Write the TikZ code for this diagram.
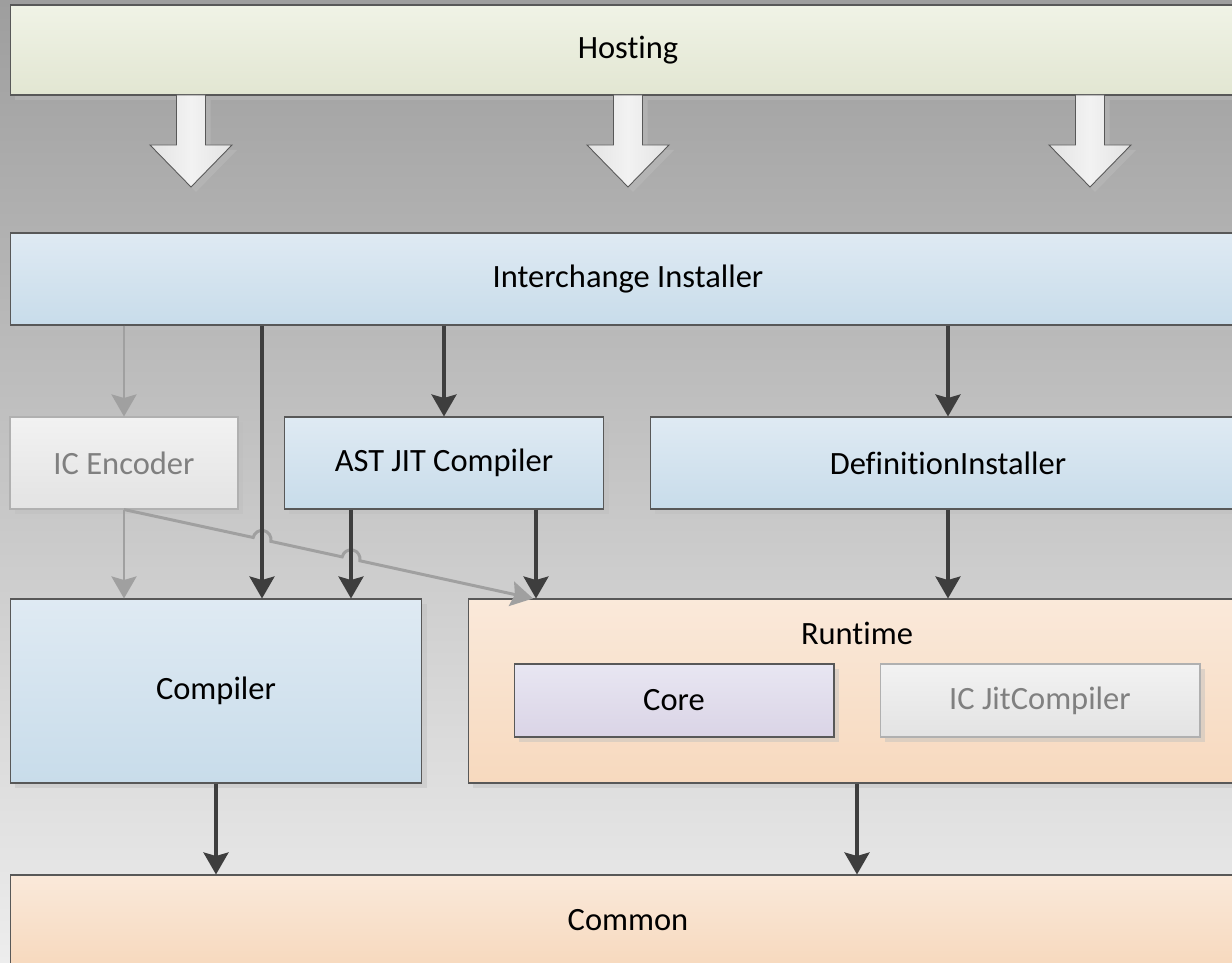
\documentclass[tikz,border=0pt]{standalone}
\usepackage{fontspec}
\setmainfont{Carlito}[Ligatures=NoCommon]
\usetikzlibrary{arrows.meta, positioning, calc, shadows}
\definecolor{bgtop}{RGB}{158,158,158}
\definecolor{bgbot}{RGB}{237,237,237}
\definecolor{edgedark}{RGB}{88,88,88}
\definecolor{edgelight}{RGB}{176,176,176}
\definecolor{shadowgrey}{RGB}{190,190,190}
\definecolor{hosttop}{RGB}{240,243,230}
\definecolor{hostbot}{RGB}{226,230,210}
\definecolor{bluetop}{RGB}{223,234,243}
\definecolor{bluebot}{RGB}{200,220,234}
\definecolor{peachtop}{RGB}{250,233,218}
\definecolor{peachbot}{RGB}{247,217,190}
\definecolor{lilactop}{RGB}{232,230,242}
\definecolor{lilacbot}{RGB}{218,212,230}
\definecolor{greytop}{RGB}{242,242,242}
\definecolor{greybot}{RGB}{227,227,227}
\definecolor{arrowdark}{RGB}{62,62,62}
\definecolor{arrowgrey}{RGB}{160,160,160}
\definecolor{textgrey}{RGB}{128,128,128}

\begin{document}
\begin{tikzpicture}[
  x=0.02cm, y=-0.02cm,
  box/.style={rectangle, draw=edgedark, line width=0.6pt, inner sep=0pt, font=\fontsize{18.5}{22}\selectfont,
    drop shadow={shadow xshift=0.1cm, shadow yshift=-0.1cm, fill=shadowgrey, opacity=0.45}},
  hostbox/.style={box, top color=hosttop, bottom color=hostbot},
  bluebox/.style={box, top color=bluetop, bottom color=bluebot},
  peachbox/.style={box, top color=peachtop, bottom color=peachbot},
  lilacbox/.style={box, top color=lilactop, bottom color=lilacbot},
  icbox/.style={box, draw=edgelight, text=textgrey, top color=greytop, bottom color=greybot},
  bigarrow/.style={draw=edgedark, line width=0.5pt, left color=greybot, right color=greybot, middle color=greytop,
    drop shadow={shadow xshift=0.1cm, shadow yshift=-0.1cm, fill=shadowgrey, opacity=0.45}},
  dep/.style={-{Stealth[width=0.5cm, length=0.44cm, inset=0.07cm]}, line width=1.8pt, arrowdark},
  faintdep/.style={dep, line width=1.7pt, arrowgrey},
]
\useasboundingbox (0,0) rectangle (1232,963);
\clip (0,0) rectangle (1232,963);
\shade[top color=bgtop, bottom color=bgbot] (0,0) rectangle (1232,963);

% layers
\node[hostbox, minimum width=24.72cm, minimum height=1.8cm] (hosting) at (628,50) {Hosting};
\node[bluebox, minimum width=24.72cm, minimum height=1.84cm] (installer) at (628,279) {Interchange Installer};
\node[icbox, minimum width=4.56cm, minimum height=1.84cm] (encoder) at (124,463) {IC Encoder};
\node[bluebox, minimum width=6.4cm, minimum height=1.84cm] (astjit) at (444,463) {AST JIT Compiler};
\node[bluebox, minimum width=11.92cm, minimum height=1.84cm] (definst) at (948,463) {DefinitionInstaller};
\node[bluebox, minimum width=8.24cm, minimum height=3.68cm] (compiler) at (216,691) {Compiler};
\node[peachbox, minimum width=15.56cm, minimum height=3.68cm] (runtime) at (857,691) {};
\node[font=\fontsize{18.5}{22}\selectfont, inner sep=0pt] (rtname) at (857,633) {Runtime};
\node[lilacbox, minimum width=6.4cm, minimum height=1.46cm] (core) at (674,700.5) {Core};
\node[icbox, minimum width=6.4cm, minimum height=1.46cm] (icjit) at (1040,700.5) {IC JitCompiler};
\node[peachbox, minimum width=24.72cm, minimum height=1.8cm] (common) at (628,920) {Common};

% hosting feeds the installer
\foreach \bx in {191,628,1090}
  \draw[bigarrow] (\bx-14.5,95) -- (\bx+14.5,95) -- (\bx+14.5,145) -- (\bx+41,145)
    -- (\bx,187) -- (\bx-41,145) -- (\bx-14.5,145) -- cycle;

\coordinate (colb) at (262,0);
\coordinate (colc) at (351,0);
\coordinate (cold) at (536,0);

% encoder line hops over two arrows
\draw[faintdep] (encoder.south) -- (253.2,537.5)
  arc[start angle=167.68, end angle=-12.32, radius=0.18cm] -- (342.2,556.9)
  arc[start angle=167.68, end angle=-12.32, radius=0.18cm] -- ($(runtime.north -| cold)+(-3,0)$);
\draw[faintdep] (installer.south -| encoder) -- (encoder);
\draw[faintdep] (encoder) -- (compiler.north -| encoder);

\draw[dep] (installer.south -| colb) -- (compiler.north -| colb);
\draw[dep] (installer.south -| astjit) -- (astjit);
\draw[dep] (installer.south -| definst) -- (definst);
\draw[dep] (astjit.south -| colc) -- (compiler.north -| colc);
\draw[dep] (astjit.south -| cold) -- (runtime.north -| cold);
\draw[dep] (definst) -- (runtime.north -| definst);
\draw[dep] (compiler) -- (common.north -| compiler);
\draw[dep] (runtime.south -| rtname) -- (common.north -| rtname);
\end{tikzpicture}
\end{document}
